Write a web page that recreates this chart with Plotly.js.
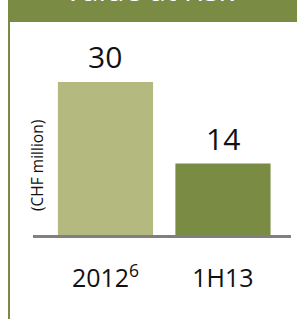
<!DOCTYPE html>
<html>
<head>
<meta charset="utf-8">
<script src="https://cdn.plot.ly/plotly-3.0.1.min.js"></script>
<style>html,body{margin:0;padding:0;background:#fff;}#chart{width:297px;height:319px;}</style>
</head>
<body>
<div id="chart"></div>
<script>
var categories = ['2012<sup>6</sup>', '1H13'];
var values = [30, 14];
var barColors = ['#b3b97f', '#7a8b43'];
var valueLabels = ['30', '14'];
var chartTitle = 'Value at risk';
var unitLabel = '(CHF million)';

var green = '#7a8b43';
var font = '"Open Sans", "Noto Sans", sans-serif';

var trace = {
  type: 'bar',
  x: categories,
  y: values,
  marker: {color: barColors, line: {width: 0}},
  width: 0.81,
  hoverinfo: 'none'
};

var annotations = categories.map(function (c, i) {
  return {
    x: c, y: values[i], xref: 'x', yref: 'y',
    text: valueLabels[i], showarrow: false,
    yanchor: 'bottom', yshift: 3,
    font: {family: font, size: 30, color: '#111'}
  };
});
annotations.push({
  xref: 'paper', yref: 'paper', x: 0, y: 0.324,
  xanchor: 'center', yanchor: 'middle', xshift: 4,
  text: unitLabel, textangle: -90, showarrow: false,
  font: {family: font, size: 15.5, color: '#111'}
});

var layout = {
  width: 297, height: 319,
  margin: {l: 33, r: 6, t: 22, b: 84},
  paper_bgcolor: '#ffffff', plot_bgcolor: '#ffffff',
  showlegend: false,
  title: {
    text: chartTitle,
    font: {family: font, size: 30, color: '#ffffff'},
    xref: 'container', x: 0.502, xanchor: 'center',
    yref: 'container', y: 0.996, yanchor: 'bottom'
  },
  xaxis: {
    type: 'category',
    range: [-0.617, 1.579],
    showline: true, linecolor: '#808080', linewidth: 3,
    ticks: 'outside', ticklen: 19, tickcolor: 'rgba(0,0,0,0)',
    tickfont: {family: font, size: 25, color: '#111'},
    showgrid: false, zeroline: false, fixedrange: true
  },
  yaxis: {
    range: [0, 41.76],
    visible: false, showgrid: false, zeroline: false, fixedrange: true
  },
  shapes: [
    {type: 'rect', xref: 'paper', yref: 'paper', x0: -0.0969, x1: 1.03, y0: 1, y1: 1.11,
     fillcolor: green, line: {width: 0}, layer: 'below'},
    {type: 'line', xref: 'paper', yref: 'paper', x0: -0.0930, x1: -0.0930, y0: 1.0, y1: -0.40,
     line: {color: green, width: 2}}
  ],
  annotations: annotations
};

Plotly.newPlot('chart', [trace], layout, {displayModeBar: false, staticPlot: true});
</script>
</body>
</html>
